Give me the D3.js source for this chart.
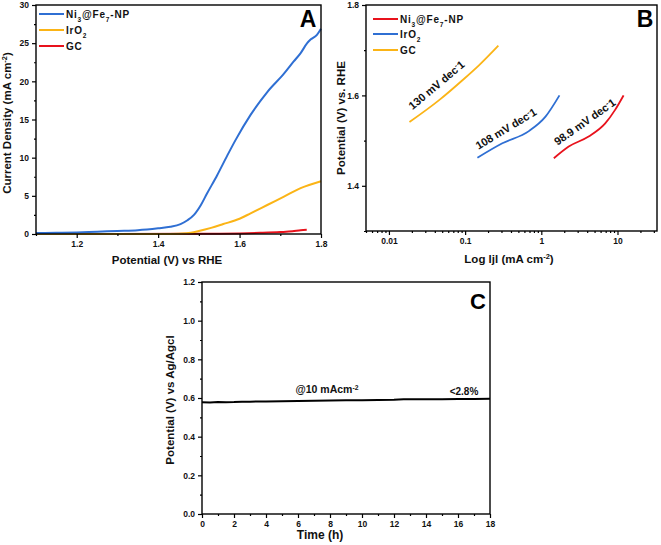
<!DOCTYPE html>
<html><head><meta charset="utf-8">
<script src="https://cdn.jsdelivr.net/npm/d3@7"></script>
<style>
body{margin:0;background:#fff;}
svg{display:block;font-family:"Liberation Sans",Arial,sans-serif;font-weight:bold;}
</style></head><body>
<svg id="c" width="661" height="545"></svg>
<script>
// ---------- DATA ----------
// Panel A: LSV curves
const aNiV = [1.10,1.15,1.20,1.25,1.30,1.35,1.40,1.43,1.455,1.472,1.488,1.505,1.52,1.545,1.57,1.59,1.627,1.668,1.709,1.733,1.75,1.766,1.775,1.79,1.80];
const aNiJ = [0.12,0.15,0.2,0.3,0.4,0.5,0.75,0.95,1.3,1.8,2.5,3.8,5.3,7.7,10.3,12.3,15.6,18.6,21.0,22.6,23.7,25.0,25.5,26.1,26.9];
const aIrV = [1.10,1.43,1.47,1.50,1.53,1.56,1.60,1.627,1.668,1.709,1.75,1.80];
const aIrJ = [0,0,0.1,0.4,0.8,1.3,2.0,2.7,3.8,4.9,6.0,6.9];
const aGcV = [1.10,1.50,1.60,1.65,1.70,1.73,1.75,1.765];
const aGcJ = [0,0.02,0.08,0.15,0.25,0.35,0.5,0.55];
const aXTicks = [1.2,1.4,1.6,1.8];
const aYTicks = [0,5,10,15,20,25,30];
// Panel B: Tafel
const bGcJ = [0.0186,0.046,0.093,0.153,0.273];
const bGcE = [1.541,1.59,1.634,1.667,1.71];
const bIrJ = [0.145,0.308,0.687,1.135,1.73];
const bIrE = [1.462,1.494,1.521,1.553,1.60];
const bNiJ = [1.46,2.29,4.18,6.9,9.3,12];
const bNiE = [1.461,1.487,1.509,1.538,1.568,1.60];
const bXTicks = [0.01,0.1,1,10];
const bYTicks = [1.4,1.6,1.8];
const bSlopes = ["130 mV dec", "108 mV dec", "98.9 mV dec"];
// Panel C: stability
const cT = [0,0.5,1,1.5,2,2.5,3,4,5,6,7,8,9,10,11,12,12.6,13,14,15,16,17,18];
const cE = [0.578,0.577,0.579,0.578,0.579,0.581,0.581,0.582,0.583,0.584,0.586,0.587,0.588,0.589,0.590,0.591,0.593,0.593,0.594,0.594,0.595,0.595,0.596];
const cXTicks = [0,2,4,6,8,10,12,14,16,18];
const cYTicks = [0,0.2,0.4,0.6,0.8,1.0,1.2];

const BLUE="#2f6fd3", ORANGE="#fbb416", RED="#e8121c";
const svg = d3.select("#c");
const zip=(a,b)=>a.map((v,i)=>[v,b[i]]);

function frame(g,x0,x1,y0,y1){
  g.append("rect").attr("x",x0).attr("y",y0).attr("width",x1-x0).attr("height",y1-y0)
   .attr("fill","none").attr("stroke","#000").attr("stroke-width",1.4);
}
function styleAxis(sel,fs){
  sel.select(".domain").remove();
  sel.selectAll(".tick line").attr("stroke","#000").attr("stroke-width",1.2);
  sel.selectAll(".tick text").attr("font-size",fs).attr("font-weight","bold").attr("fill","#111");
}
function axes(x,y,xt,yt,xminor,yminor,fmtX,fmtY,x0,y1){
  const gx=svg.append("g").attr("transform",`translate(0,${y1})`)
    .call(d3.axisBottom(x).tickValues(xt).tickFormat(fmtX).tickSize(4).tickPadding(3));
  styleAxis(gx,"8.5px");
  const gxm=svg.append("g").attr("transform",`translate(0,${y1})`)
    .call(d3.axisBottom(x).tickValues(xminor).tickFormat("").tickSize(2));
  styleAxis(gxm,"8px");
  const gy=svg.append("g").attr("transform",`translate(${x0},0)`)
    .call(d3.axisLeft(y).tickValues(yt).tickFormat(fmtY).tickSize(4).tickPadding(3));
  styleAxis(gy,"8.5px");
  const gym=svg.append("g").attr("transform",`translate(${x0},0)`)
    .call(d3.axisLeft(y).tickValues(yminor).tickFormat("").tickSize(2));
  styleAxis(gym,"8px");
}
function supText(g,x,y,parts,fs,rot,anchor){
  const t=g.append("text").attr("transform",`translate(${x},${y}) rotate(${rot||0})`)
    .attr("text-anchor",anchor||"middle").attr("font-size",fs).attr("font-weight","bold").attr("fill","#111");
  parts.forEach(p=>{
    const s=t.append("tspan").text(p[0]);
    if(p[1]==="sup") s.attr("font-size",fs*0.65).attr("baseline-shift","super");
    if(p[1]==="sub") s.attr("font-size",fs*0.65).attr("baseline-shift","sub");
  });
  return t;
}
function legend(g,x,ys,items,fs){
  items.forEach((it,i)=>{
    g.append("line").attr("x1",x).attr("x2",x+25).attr("y1",ys[i]).attr("y2",ys[i])
      .attr("stroke",it.c).attr("stroke-width",2);
    supText(g,x+27,ys[i]+3.5,it.t,fs,0,"start").attr("letter-spacing","0.8px");
  });
}

// ---------- PANEL A ----------
{
  const L=36,R=321,T=5,B=234;
  const x=d3.scaleLinear().domain([1.1,1.8]).range([L,R]);
  const y=d3.scaleLinear().domain([0,30]).range([B,T]);
  const g=svg.append("g");
  const line=d3.line().x(d=>x(d[0])).y(d=>y(d[1])).curve(d3.curveMonotoneX);
  g.append("path").datum(zip(aGcV,aGcJ)).attr("d",line).attr("fill","none").attr("stroke",RED).attr("stroke-width",2);
  g.append("path").datum(zip(aIrV,aIrJ)).attr("d",line).attr("fill","none").attr("stroke",ORANGE).attr("stroke-width",2);
  g.append("path").datum(zip(aNiV,aNiJ)).attr("d",line).attr("fill","none").attr("stroke",BLUE).attr("stroke-width",2);
  axes(x,y,aXTicks,aYTicks,[1.1,1.3,1.5,1.7],[2.5,7.5,12.5,17.5,22.5,27.5],d3.format(".1f"),d3.format("d"),L,B);
  frame(g,L,R,T,B);
  legend(g,39,[14,30,46],[
    {c:BLUE,t:[["Ni"],["3","sub"],["@Fe"],["7","sub"],["-NP"]]},
    {c:ORANGE,t:[["IrO"],["2","sub"]]},
    {c:RED,t:[["GC"]]}],10);
  g.append("text").attr("x",308).attr("y",27).attr("text-anchor","middle").attr("font-size",23).attr("font-weight","bold").text("A");
  supText(g,167,264,[["Potential (V) vs RHE"]],11.5);
  supText(g,11,123,[["Current Density (mA cm"],["-2","sup"],[")"]],11.5,-90);
}

// ---------- PANEL B ----------
{
  const L=366,R=657,T=5,B=231;
  const x=d3.scaleLog().domain([0.005,33]).range([L,R]);
  const y=d3.scaleLinear().domain([1.3,1.8]).range([B,T]);
  const g=svg.append("g");
  const line=d3.line().x(d=>x(d[0])).y(d=>y(d[1])).curve(d3.curveMonotoneX);
  g.append("path").datum(zip(bGcJ,bGcE)).attr("d",line).attr("fill","none").attr("stroke",ORANGE).attr("stroke-width",1.8);
  g.append("path").datum(zip(bIrJ,bIrE)).attr("d",line).attr("fill","none").attr("stroke",BLUE).attr("stroke-width",1.8);
  g.append("path").datum(zip(bNiJ,bNiE)).attr("d",line).attr("fill","none").attr("stroke",RED).attr("stroke-width",1.8);
  const minor=[];
  [0.001,0.01,0.1,1,10].forEach(d=>{for(let k=2;k<=9;k++){const v=d*k; if(v>=0.005&&v<=33&&bXTicks.indexOf(v)<0) minor.push(v);}});
  axes(x,y,bXTicks,bYTicks,minor,[1.3,1.5,1.7],d=>String(d),d3.format(".1f"),L,B);
  frame(g,L,R,T,B);
  legend(g,373,[19,34,50],[
    {c:RED,t:[["Ni"],["3","sub"],["@Fe"],["7","sub"],["-NP"]]},
    {c:BLUE,t:[["IrO"],["2","sub"]]},
    {c:ORANGE,t:[["GC"]]}],10);
  g.append("text").attr("x",645).attr("y",27).attr("text-anchor","middle").attr("font-size",23).attr("font-weight","bold").text("B");
  supText(g,509,263,[["Log ljl (mA cm"],["-2","sup"],[")"]],11.5);
  supText(g,345,118,[["Potential (V) vs. RHE"]],11.5,-90);
  supText(g,439,88,[[bSlopes[0]],["-","sup"],["1"]],11,-40);
  supText(g,508,132,[[bSlopes[1]],["-","sup"],["1"]],11,-31);
  supText(g,587,125,[[bSlopes[2]],["-","sup"],["1"]],11,-35);
}

// ---------- PANEL C ----------
{
  const L=202,R=490,T=282,B=514;
  const x=d3.scaleLinear().domain([0,18]).range([L,R]);
  const y=d3.scaleLinear().domain([0,1.2]).range([B,T]);
  const g=svg.append("g");
  const line=d3.line().x(d=>x(d[0])).y(d=>y(d[1]));
  g.append("path").datum(zip(cT,cE)).attr("d",line).attr("fill","none").attr("stroke","#000").attr("stroke-width",2);
  axes(x,y,cXTicks,cYTicks,[1,3,5,7,9,11,13,15,17],[0.1,0.3,0.5,0.7,0.9,1.1],d3.format("d"),d3.format(".1f"),L,B);
  frame(g,L,R,T,B);
  g.append("text").attr("x",478).attr("y",309).attr("text-anchor","middle").attr("font-size",22).attr("font-weight","bold").text("C");
  supText(g,327,393,[["@10 mAcm"],["-2","sup"]],10.5);
  supText(g,464,395,[["<2.8%"]],10);
  supText(g,320,539,[["Time (h)"]],12);
  supText(g,174,400,[["Potential (V) vs Ag/Agcl"]],11.5,-90);
}
</script></body></html>
